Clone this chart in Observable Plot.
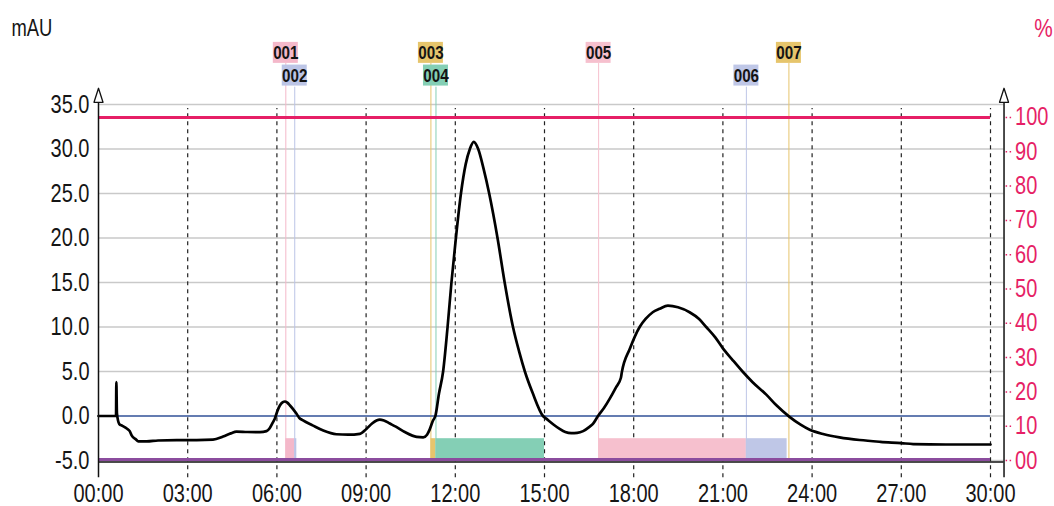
<!DOCTYPE html>
<html>
<head>
<meta charset="utf-8">
<script src="https://cdn.jsdelivr.net/npm/d3@7"></script>
<script src="https://cdn.jsdelivr.net/npm/@observablehq/plot@0.6"></script>
<style>
  html, body { margin: 0; padding: 0; background: #fff; }
  #chart svg { display: block; }
</style>
</head>
<body>
<div id="chart"></div>
<script>
// ---- data ----
const times = [0, 0.59, 0.60, 0.62, 0.70, 0.80, 0.95, 1.05, 1.12, 1.25, 1.34, 1.62, 2.0, 2.63, 3.3, 3.85, 4.19, 4.45, 4.64, 5.0, 5.43, 5.65, 5.75, 5.85, 5.93, 6.02, 6.1, 6.2, 6.27, 6.35, 6.44, 6.55, 6.66, 6.75, 6.88, 7.2, 7.56, 8.0, 8.4, 8.79, 9.01, 9.2, 9.35, 9.46, 9.6, 9.8, 10.0, 10.3, 10.7, 10.92, 11.05, 11.14, 11.25, 11.33, 11.45, 11.59, 11.74, 11.87, 12.02, 12.19, 12.35, 12.49, 12.62, 12.77, 12.95, 13.14, 13.42, 13.66, 13.94, 14.15, 14.34, 14.6, 14.95, 15.06, 15.3, 15.51, 15.7, 15.9, 16.1, 16.3, 16.5, 16.63, 16.8, 17.0, 17.19, 17.4, 17.57, 17.60, 17.87, 18.2, 18.4, 18.64, 18.87, 19.15, 19.49, 19.88, 20.2, 20.44, 20.75, 21.0, 21.3, 21.66, 22.0, 22.46, 22.8, 23.24, 23.6, 23.92, 24.4, 24.92, 25.6, 26.3, 27.0, 27.4, 28.5, 30.0];
const mau = [0, 0, 3.8, 0.3, -0.9, -1.1, -1.4, -1.7, -2.2, -2.6, -2.85, -2.86, -2.75, -2.7, -2.7, -2.65, -2.3, -1.95, -1.75, -1.8, -1.82, -1.7, -1.4, -0.8, -0.3, 0.6, 1.18, 1.55, 1.63, 1.5, 1.18, 0.75, 0.25, -0.2, -0.5, -1.05, -1.63, -2.05, -2.1, -2.0, -1.45, -0.85, -0.5, -0.4, -0.5, -0.85, -1.2, -1.8, -2.35, -2.4, -2.1, -1.5, -0.5, 0, 2.5, 5, 10, 15, 20, 25, 28.3, 30, 30.8, 30, 27.8, 25, 20, 15, 10, 7.2, 5, 2.6, 0, -0.3, -0.95, -1.45, -1.8, -1.93, -1.9, -1.7, -1.25, -0.88, 0, 0.9, 1.93, 3.2, 4.3, 4.9, 7.55, 10, 10.9, 11.66, 12.04, 12.4, 12.22, 11.66, 10.9, 10, 8.8, 7.6, 6.4, 5.0, 3.8, 2.4, 1.2, -0.1, -0.95, -1.55, -2.05, -2.4, -2.7, -2.9, -3.05, -3.15, -3.2, -3.2];

const fracLabels = ["001", "002", "003", "004", "005", "006", "007"];
const fracStart  = [6.30, 6.60, 11.18, 11.35, 16.82, 21.79, 23.22];
const fracEnd    = [6.60, 6.67, 11.35, 15.00, 21.79, 23.16, 23.22];
const fracColors = ["#f4b8ca", "#bcc5e6", "#e6c56c", "#84cfb5", "#f6c0ce", "#bfc7e7", "#e6c56c"];
const fracRow    = [0, 1, 0, 1, 0, 1, 0];

const xTickValues = [0, 3, 6, 9, 12, 15, 18, 21, 24, 27, 30];
const xTickLabels = ["00:00", "03:00", "06:00", "09:00", "12:00", "15:00", "18:00", "21:00", "24:00", "27:00", "30:00"];
const yTickValues = [-5, 0, 5, 10, 15, 20, 25, 30, 35];
const yTickLabels = ["-5.0", "0.0", "5.0", "10.0", "15.0", "20.0", "25.0", "30.0", "35.0"];
const pctTickValues = [0, 10, 20, 30, 40, 50, 60, 70, 80, 90, 100];
const pctTickLabels = ["00", "10", "20", "30", "40", "50", "60", "70", "80", "90", "100"];
const pctLineValue = 100;

// secondary (%) axis: 0 % at -5 mAU, 100 % at 33.54 mAU
const pctToMau = p => -5 + p / 100 * 38.54;
const xRightAxis = 30.455;

const curve = times.map((t, i) => ({t, v: mau[i]}));
const fractions = fracLabels.map((name, i) => ({name, s: fracStart[i], e: fracEnd[i], c: fracColors[i], row: fracRow[i]}));
const xTicks = xTickValues.map((v, i) => ({v, label: xTickLabels[i]}));
const yTicks = yTickValues.map((v, i) => ({v, label: yTickLabels[i]}));
const pTicks = pctTickValues.map((p, i) => ({y: pctToMau(p), label: pctTickLabels[i]}));

const FONT = "'Liberation Sans', Arial, sans-serif";
const PINK = "#e61f66";
const rowY = [40.8, 38.25];      // label rows (in mAU units, above the frame)
const rowLineTop = [39.6, 36.95];

const upArrow = {draw(ctx, l) { ctx.moveTo(-4.5, 0); ctx.lineTo(0, -l); ctx.lineTo(4.5, 0); ctx.closePath(); }};

const chart = Plot.plot({
  width: 1054, height: 506,
  marginLeft: 98, marginRight: 64, marginTop: 104, marginBottom: 46,
  x: {domain: [0, 30], axis: null},
  y: {domain: [-5, 35], axis: null},
  style: {fontFamily: FONT, background: "#fff", overflow: "visible"},
  marks: [
    // horizontal grid
    Plot.ruleY(yTicks, {y: "v", x1: 0, x2: xRightAxis, stroke: "#c9c9c9", strokeWidth: 1.5}),
    // vertical dashed grid
    Plot.ruleX(xTicks.filter(d => d.v > 0), {x: "v", y1: -6.95, y2: 34.55, stroke: "#222", strokeWidth: 1.2, strokeDasharray: "4,4"}),
    // fraction rectangles
    Plot.rect(fractions, {x1: "s", x2: "e", y1: -5, y2: -2.55, fill: "c"}),
    // fraction lines
    Plot.ruleX(fractions, {x: "s", y1: -5, y2: d => rowLineTop[d.row], stroke: "c", strokeWidth: 1}),
    // fraction label boxes
    Plot.rect(fractions, {x1: "s", x2: "s", y1: d => rowY[d.row], y2: d => rowY[d.row], insetLeft: -12.5, insetRight: -12.5, insetTop: -10.5, insetBottom: -10.5, fill: "c"}),
    Plot.text(fractions, {x: "s", y: d => rowY[d.row], text: "name", fontSize: 19, fontWeight: "bold", fill: "#141414"}),
    // 100 % line
    Plot.ruleY([pctToMau(pctLineValue)], {x1: 0, x2: 30, stroke: PINK, strokeWidth: 3}),
    // baseline at 0 mAU
    Plot.ruleY([0], {x1: 0, x2: 30, stroke: "#3e5ea5", strokeWidth: 1.4}),
    // bottom purple line + black axis
    Plot.ruleY([-5], {x1: 0, x2: 30, stroke: "#8b4c9e", strokeWidth: 3, dy: -1}),
    Plot.ruleY([-5], {x1: 0, x2: xRightAxis, stroke: "#111", strokeWidth: 1.5, dy: 1.5}),
    // chromatogram
    Plot.line(curve, {x: "t", y: "v", stroke: "#000", strokeWidth: 2.7, curve: "monotone-x"}),
    // axes lines
    Plot.ruleX([0], {y1: -6.95, y2: 35.25, stroke: "#111", strokeWidth: 1.5}),
    Plot.ruleX([xRightAxis], {y1: -6.95, y2: 35.25, stroke: "#111", strokeWidth: 1.5}),
    Plot.vector([0, xRightAxis], {x: d => d, y: 35.25, length: 14, anchor: "start", shape: upArrow, fill: "#fff", stroke: "#111", strokeWidth: 1.3}),
    // left tick labels
    Plot.text(yTicks, {x: 0, y: "v", text: "label", dx: -9, textAnchor: "end", fontSize: 25, fill: "#151515"}),
    // bottom tick labels
    Plot.text(xTicks, {x: "v", y: -5, text: "label", dy: 33, fontSize: 25, fill: "#151515"}),
    // right % axis
    Plot.ruleY(pTicks, {y: "y", x1: xRightAxis + 0.07, x2: xRightAxis + 0.3, stroke: PINK, strokeWidth: 1.5, strokeDasharray: "1.5,2.5"}),
    Plot.text(pTicks, {x: xRightAxis, y: "y", text: "label", dx: 11, textAnchor: "start", fontSize: 25, fill: PINK}),
    // axis titles
    Plot.text(["mAU"], {frameAnchor: "top-left", text: d => d, dx: -87, dy: -76, textAnchor: "start", lineAnchor: "middle", fontSize: 23, fill: "#151515"}),
    Plot.text(["%"], {frameAnchor: "top-right", text: d => d, dx: 53, dy: -76, textAnchor: "middle", lineAnchor: "middle", fontSize: 26, fill: PINK})
  ]
});
document.getElementById("chart").appendChild(chart);
// the reference uses a condensed face: compress glyphs horizontally
d3.select(chart).selectAll("text").each(function() {
  const w = this.getComputedTextLength();
  if (w > 0) {
    this.setAttribute("textLength", (w * 0.8).toFixed(2));
    this.setAttribute("lengthAdjust", "spacingAndGlyphs");
  }
});
</script>
</body>
</html>
